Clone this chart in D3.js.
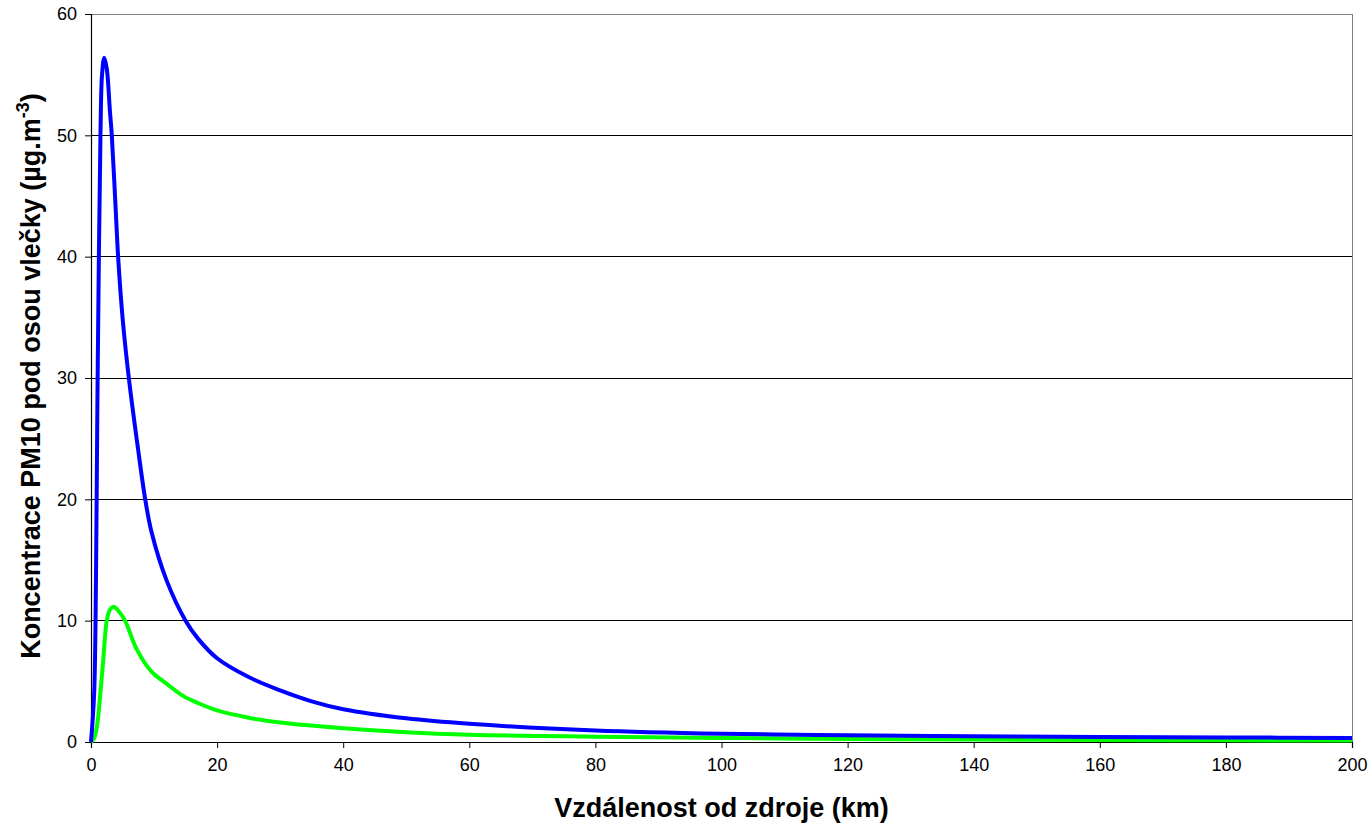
<!DOCTYPE html>
<html>
<head>
<meta charset="utf-8">
<script src="https://cdn.jsdelivr.net/npm/d3@7.9.0/dist/d3.min.js"></script>
<style>
  body { margin: 0; background: #fff; }
  text { font-family: Arial, "Liberation Sans", sans-serif; }
</style>
</head>
<body>
<svg id="chart" width="1371" height="826"></svg>
<script>
// distance from source (km) and PM10 concentration under plume axis
const blueKm = [0, 0.5, 0.8, 1.0, 1.25, 1.5, 1.75, 2.1, 2.5, 3.0, 3.3, 4.0, 4.3, 5.0, 6.0, 7.5, 8.6, 9.6,
  12, 15, 17, 20, 25, 30, 35, 40, 50, 60, 80, 100, 120, 140, 160, 180, 200];
const blueVal = [0, 4, 14, 27, 40, 50, 55, 56.4, 55.5, 52, 50, 43, 40, 35, 30, 24, 20, 17.3,
  13.3, 10, 8.5, 6.9, 5.35, 4.25, 3.35, 2.7, 1.95, 1.5, 0.95, 0.68, 0.56, 0.47, 0.42, 0.38, 0.33];

const greenKm = [0, 0.5, 1.0, 1.4, 1.95, 2.5, 3.0, 3.6, 4.2, 5.4, 7.2, 9.6, 12, 14.6, 17, 20, 25, 30, 40,
  50, 60, 80, 100, 120, 140, 160, 180, 200];
const greenVal = [0, 0.3, 1.5, 3.5, 6.8, 10, 10.9, 11.15, 10.9, 10, 7.7, 5.8, 4.8, 3.8, 3.2, 2.6, 2.0, 1.6, 1.13,
  0.8, 0.6, 0.44, 0.33, 0.25, 0.2, 0.17, 0.14, 0.12];

const xTicks = [0, 20, 40, 60, 80, 100, 120, 140, 160, 180, 200];
const yTicks = [0, 10, 20, 30, 40, 50, 60];

const margin = { top: 14, right: 19, bottom: 84, left: 91 };
const W = 1371, H = 826;
const w = W - margin.left - margin.right;
const h = H - margin.top - margin.bottom;

const svg = d3.select('#chart');
const g = svg.append('g').attr('transform', `translate(${margin.left},${margin.top})`);

const x = d3.scaleLinear().domain([0, 200]).range([0, w]);
const y = d3.scaleLinear().domain([0, 60]).range([h, 0]);

// gridlines
g.selectAll('.grid')
  .data(yTicks.filter(d => d > 0 && d < 60))
  .join('line')
    .attr('x1', 0).attr('x2', w)
    .attr('y1', d => y(d)).attr('y2', d => y(d))
    .attr('stroke', '#000').attr('stroke-width', 1)
    .attr('shape-rendering', 'crispEdges');

// plot frame (top and right)
g.append('path')
  .attr('d', `M0,0H${w}V${h}`)
  .attr('fill', 'none')
  .attr('stroke', '#808080')
  .attr('stroke-width', 1)
  .attr('shape-rendering', 'crispEdges');

const xAxis = g.append('g')
  .attr('transform', `translate(0,${h})`)
  .call(d3.axisBottom(x).tickValues(xTicks).tickSize(6).tickPadding(10).tickFormat(d3.format('d')));
const yAxis = g.append('g')
  .call(d3.axisLeft(y).tickValues(yTicks).tickSize(6).tickPadding(8).tickFormat(d3.format('d')));

[xAxis, yAxis].forEach(a => {
  a.select('.domain').attr('stroke', '#000').attr('stroke-width', 1.2);
  a.selectAll('line').attr('stroke', '#000');
  a.selectAll('text').attr('font-size', 18).attr('fill', '#000')
    .attr('font-family', 'Arial, "Liberation Sans", sans-serif');
});

const line = d3.line()
  .x(d => x(d[0]))
  .y(d => y(d[1]))
  .curve(d3.curveCatmullRom.alpha(0.5));

g.append('path')
  .datum(greenKm.map((k, i) => [k, greenVal[i]]))
  .attr('d', line)
  .attr('fill', 'none')
  .attr('stroke', '#00ff00')
  .attr('stroke-width', 4)
  .attr('stroke-linejoin', 'round');

g.append('path')
  .datum(blueKm.map((k, i) => [k, blueVal[i]]))
  .attr('d', line)
  .attr('fill', 'none')
  .attr('stroke', '#0000ff')
  .attr('stroke-width', 4)
  .attr('stroke-linejoin', 'round');

// axis titles
svg.append('text')
  .attr('x', margin.left + w / 2)
  .attr('y', 817)
  .attr('text-anchor', 'middle')
  .attr('font-size', 27)
  .attr('font-weight', 'bold')
  .text('Vzdálenost od zdroje (km)');

const yt = svg.append('text')
  .attr('transform', 'translate(40,376) rotate(-90)')
  .attr('text-anchor', 'middle')
  .attr('font-size', 27)
  .attr('font-weight', 'bold');
yt.append('tspan').text('Koncentrace PM10 pod osou vlečky (µg.m');
yt.append('tspan').attr('dy', -11).attr('font-size', 18).text('-3');
yt.append('tspan').attr('dy', 11).text(')');
</script>
</body>
</html>
